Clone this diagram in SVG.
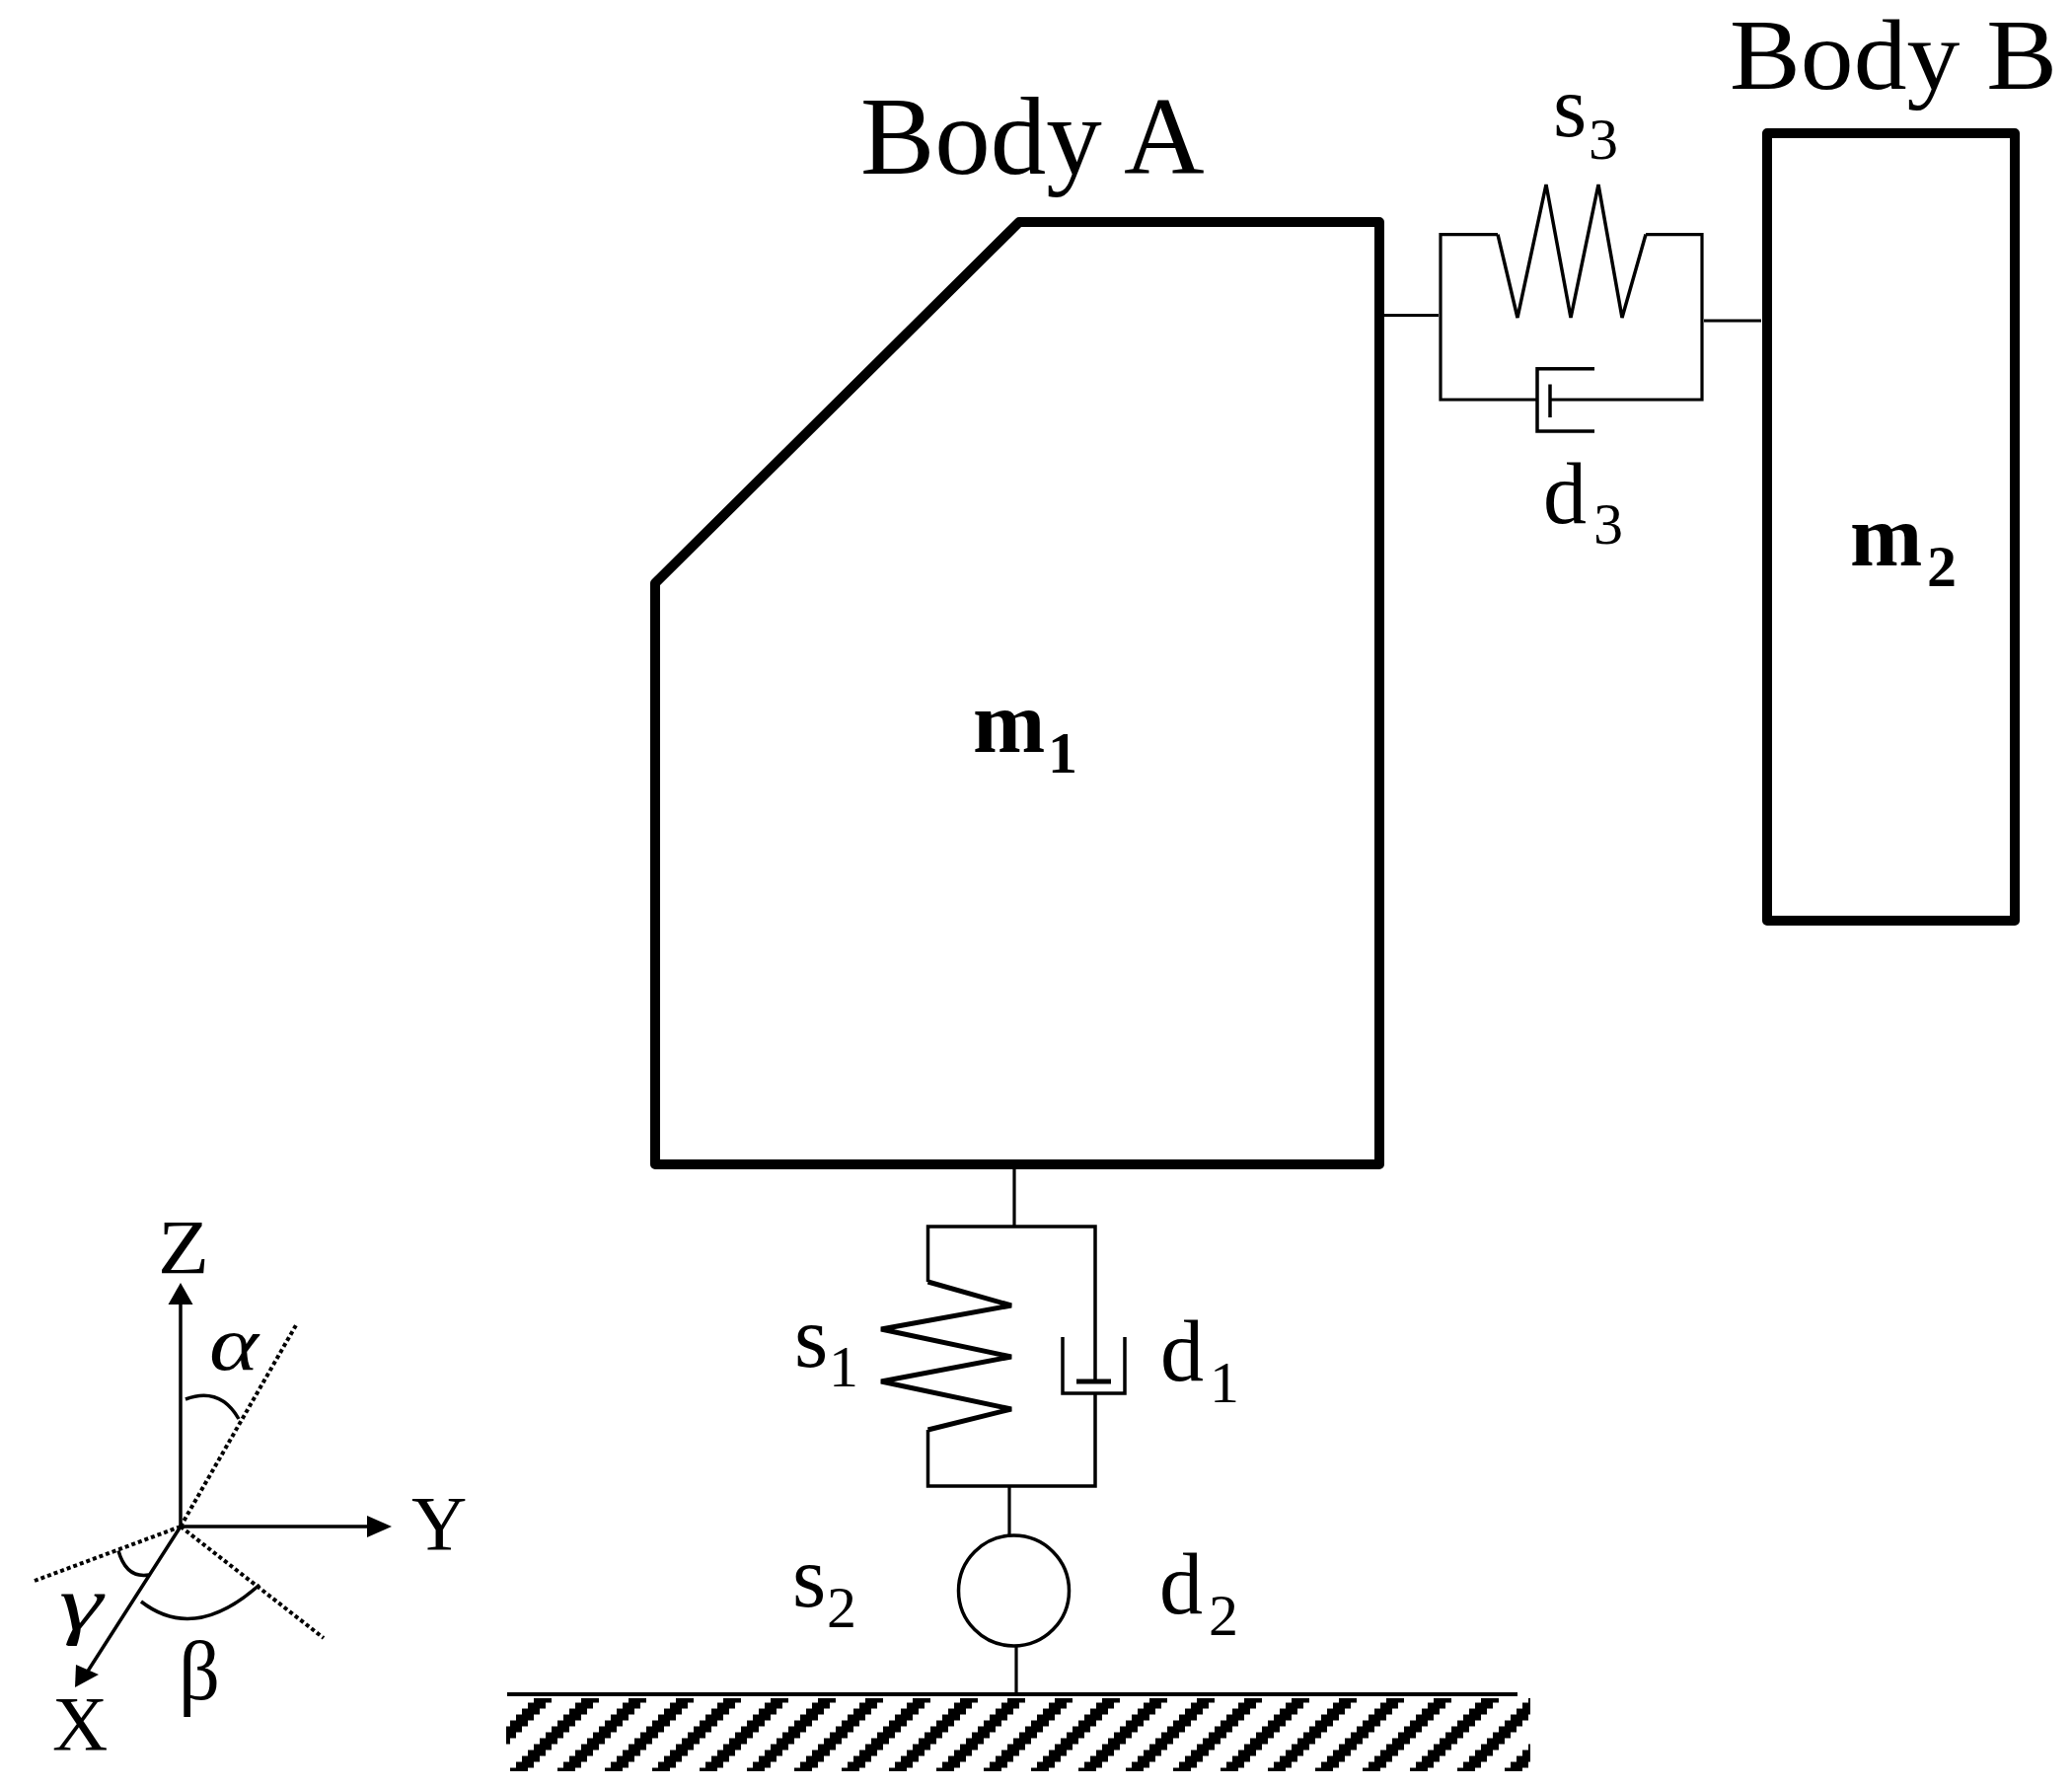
<svg xmlns="http://www.w3.org/2000/svg" width="2100" height="1813" viewBox="0 0 2100 1813">
<style>
text{font-family:"Liberation Serif","Times New Roman",serif;fill:#000}
.body{fill:none;stroke:#000;stroke-width:10;stroke-linejoin:round}
.l{fill:none;stroke:#000;stroke-width:3.2}
.t{fill:none;stroke:#000;stroke-width:3.5}
.s{fill:none;stroke:#000;stroke-width:5}
.dot{fill:none;stroke:#000;stroke-width:4;stroke-dasharray:4 3}
.lab{font-size:88px}
.sub{font-size:60px}
.m{font-size:88px;font-weight:bold}
.ax{font-size:78px}
.gr{font-size:78px;font-style:italic}
</style>
<defs>
<pattern id="hatch" width="48" height="48" patternUnits="userSpaceOnUse" x="541" y="1719.5"><path d="M0 0h18v6h-18zM-6 6h18v6h-18zM42 6h18v6h-18zM-12 12h18v6h-18zM36 12h18v6h-18zM-18 18h18v6h-18zM30 18h18v6h-18zM24 24h18v6h-18zM18 30h18v6h-18zM12 36h18v6h-18zM6 42h18v6h-18z" fill="#000"/></pattern>
</defs>
<g id="body-a"><path class="body" d="M1033 225H1398V1180H664V591Z"/><text font-size="113" x="872" y="176">Body A</text><text class="m" x="986" y="762">m<tspan class="sub" x="1062" y="783">1</tspan></text></g>
<g id="body-b"><rect class="body" x="1791" y="135" width="251" height="798"/><text font-size="101" x="1753" y="90" textLength="332" lengthAdjust="spacingAndGlyphs">Body B</text><text class="m" x="1875" y="573">m<tspan class="sub" x="1953" y="594">2</tspan></text></g>
<g id="ground"><rect x="513" y="1721" width="1038" height="74" fill="url(#hatch)"/><line x1="514" y1="1717" x2="1538" y2="1717" stroke="#000" stroke-width="4"/></g>
<g id="connectors">
<path class="l" d="M1402 319.500H1458M1727 325H1785"/>
<path class="l" d="M1518 237.600H1460V405H1558M1571 405H1725V237.600H1668"/>
<path class="t" d="M1518 237.600L1538 322L1567 187L1592 322L1620 187L1644 322L1668 237.600"/>
<path class="t" d="M1616 373.700H1558V437H1616"/>
<path class="t" d="M1571 389.500V423"/>
<path class="l" d="M1028 1185V1243"/>
<path class="t" d="M940.500 1299V1243H1110V1400M940.500 1449V1506H1110V1412"/>
<path class="s" d="M940.500 1299L1025 1323L893 1347L1025 1375L893 1400L1025 1428L940.500 1449"/>
<path class="t" d="M1077 1355V1412H1140V1355"/>
<path class="s" d="M1091 1400H1126"/>
<path class="l" d="M1023 1506V1556M1030 1668V1716"/>
<circle class="t" cx="1027.500" cy="1612" r="56"/>
</g>
<g id="axes">
<path class="t" d="M183 1547V1320M183 1547H376M183 1547L88 1695"/>
<path d="M183 1300L195.500 1322H170.500Z"/>
<path d="M397 1547L372 1536V1558Z"/>
<path d="M76 1710L100 1697L77 1687Z"/>
<path class="dot" d="M183 1547L300 1343M183 1547L35 1602M183 1547L328 1660"/>
<path class="t" d="M188 1418Q223 1405 242 1438M143 1623Q197 1665 263 1606M120 1571.500Q128 1600 151 1596"/>
<text class="ax" x="160" y="1290" textLength="52" lengthAdjust="spacingAndGlyphs">Z</text>
<text class="ax" x="417" y="1570">Y</text>
<text class="ax" x="53" y="1773">X</text>
<text class="gr" x="212" y="1388" textLength="50" lengthAdjust="spacingAndGlyphs">α</text>
<text class="ax" x="181" y="1722" textLength="42" lengthAdjust="spacingAndGlyphs" style="font-size:84px">β</text>
<text class="gr" x="60" y="1651" textLength="44" lengthAdjust="spacingAndGlyphs">γ</text>
</g>
<g id="labels">
<text class="lab" x="1574" y="138">s<tspan class="sub" x="1610" y="161">3</tspan></text>
<text class="lab" x="1564" y="530">d<tspan class="sub" x="1615" y="551">3</tspan></text>
<text class="lab" x="805" y="1385">s<tspan class="sub" x="840" y="1405">1</tspan></text>
<text class="lab" x="1176" y="1399">d<tspan class="sub" x="1226" y="1421">1</tspan></text>
<text class="lab" x="803" y="1628">s<tspan class="sub" x="838" y="1649">2</tspan></text>
<text class="lab" x="1175" y="1635">d<tspan class="sub" x="1225" y="1657">2</tspan></text>
</g>
</svg>
